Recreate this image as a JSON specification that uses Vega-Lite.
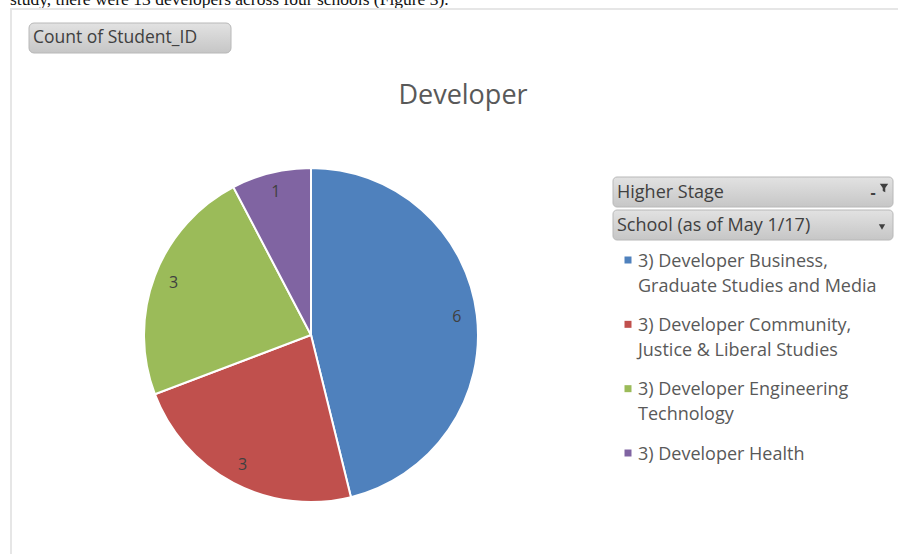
{
  "$schema": "https://vega.github.io/schema/vega-lite/v6.json",
  "width": 898,
  "height": 554,
  "autosize": "none",
  "padding": 0,
  "background": "white",
  "config": {"view": {"stroke": null}},
  "layer": [
    {
      "data": {"values": [{}]},
      "mark": {"type": "text", "x": 10, "y": 5, "align": "left", "baseline": "alphabetic", "font": "Liberation Serif", "fontSize": 17.5, "color": "#111111", "text": "study, there were 13 developers across four schools (Figure 3)."},
      "encoding": {}
    },
    {
      "data": {"values": [{}]},
      "mark": {"type": "rect", "x": 11, "y": 9, "x2": 905, "y2": 565, "fill": null, "stroke": "#e6e6e6", "strokeWidth": 2},
      "encoding": {}
    },
    {
      "data": {"values": [{}]},
      "mark": {"type": "text", "x": 463, "y": 104, "align": "center", "baseline": "alphabetic", "font": "Open Sans", "fontSize": 27, "color": "#595959", "text": "Developer"},
      "encoding": {}
    },
    {
      "data": {"values": [{}]},
      "mark": {"type": "rect", "x": 29, "y": 23, "x2": 231, "y2": 53, "cornerRadius": 5, "stroke": "#b8b8b8", "strokeWidth": 1,
        "fill": {"gradient": "linear", "x1": 0, "y1": 0, "x2": 0, "y2": 1, "stops": [{"offset": 0, "color": "#e2e2e2"}, {"offset": 1, "color": "#c6c6c6"}]}},
      "encoding": {}
    },
    {
      "data": {"values": [{}]},
      "mark": {"type": "text", "x": 33, "y": 38, "align": "left", "baseline": "middle", "font": "Open Sans", "fontSize": 17.5, "color": "#404040", "text": "Count of Student_ID"},
      "encoding": {}
    },
    {
      "data": {"values": [{}]},
      "mark": {"type": "rect", "x": 613, "y": 177, "x2": 893, "y2": 207, "cornerRadius": 4, "stroke": "#b8b8b8", "strokeWidth": 1,
        "fill": {"gradient": "linear", "x1": 0, "y1": 0, "x2": 0, "y2": 1, "stops": [{"offset": 0, "color": "#e2e2e2"}, {"offset": 1, "color": "#c6c6c6"}]}},
      "encoding": {}
    },
    {
      "data": {"values": [{}]},
      "mark": {"type": "rect", "x": 613, "y": 210, "x2": 893, "y2": 240, "cornerRadius": 4, "stroke": "#b8b8b8", "strokeWidth": 1,
        "fill": {"gradient": "linear", "x1": 0, "y1": 0, "x2": 0, "y2": 1, "stops": [{"offset": 0, "color": "#e2e2e2"}, {"offset": 1, "color": "#c6c6c6"}]}},
      "encoding": {}
    },
    {
      "data": {"values": [{}]},
      "mark": {"type": "text", "x": 617, "y": 193, "align": "left", "baseline": "middle", "font": "Open Sans", "fontSize": 18, "color": "#404040", "text": "Higher Stage"},
      "encoding": {}
    },
    {
      "data": {"values": [{}]},
      "mark": {"type": "text", "x": 617, "y": 226, "align": "left", "baseline": "middle", "font": "Open Sans", "fontSize": 18, "color": "#404040", "text": "School (as of May 1/17)"},
      "encoding": {}
    },
    {
      "data": {"values": [{}]},
      "mark": {"type": "point", "x": 884, "y": 188, "filled": true, "color": "#404040", "opacity": 1, "size": 70, "shape": "M-1,-1L1,-1L0.3,0L0.3,1L-0.3,0.7L-0.3,0Z"},
      "encoding": {}
    },
    {
      "data": {"values": [{}]},
      "mark": {"type": "text", "x": 873, "y": 193, "align": "center", "baseline": "middle", "font": "Open Sans", "fontSize": 16, "fontWeight": "bold", "color": "#404040", "text": "-"},
      "encoding": {}
    },
    {
      "data": {"values": [{}]},
      "mark": {"type": "point", "x": 882, "y": 227, "filled": true, "color": "#404040", "opacity": 1, "size": 40, "shape": "triangle-down"},
      "encoding": {}
    },
    {
      "data": {"name": "schools", "values": [
        {"school": "3) Developer Business, Graduate Studies and Media", "legend_label": ["3) Developer Business,", "Graduate Studies and Media"], "count": 6},
        {"school": "3) Developer Community, Justice & Liberal Studies", "legend_label": ["3) Developer Community,", "Justice & Liberal Studies"], "count": 3},
        {"school": "3) Developer Engineering Technology", "legend_label": ["3) Developer Engineering", "Technology"], "count": 3},
        {"school": "3) Developer Health", "legend_label": ["3) Developer Health"], "count": 1}
      ]},
      "layer": [
        {
          "mark": {"type": "arc", "x": 311, "y": 335, "radius": 167, "stroke": "white", "strokeWidth": 2},
          "encoding": {
            "theta": {"field": "count", "type": "quantitative", "stack": true},
            "order": {"field": "school", "type": "nominal", "sort": "ascending"},
            "color": {
              "field": "school",
              "type": "nominal",
              "scale": {
                "domain": ["3) Developer Business, Graduate Studies and Media", "3) Developer Community, Justice & Liberal Studies", "3) Developer Engineering Technology", "3) Developer Health"],
                "range": ["#4F81BD", "#C0504D", "#9BBB59", "#8064A2"]
              },
              "legend": null
            }
          }
        },
        {
          "mark": {"type": "text", "x": 311, "y": 335, "radius": 147, "font": "Open Sans", "fontSize": 16, "color": "#404040"},
          "encoding": {
            "theta": {"field": "count", "type": "quantitative", "stack": true},
            "order": {"field": "school", "type": "nominal", "sort": "ascending"},
            "detail": {"field": "school", "type": "nominal"},
            "text": {"field": "count", "type": "quantitative"}
          }
        },
        {
          "mark": {"type": "square", "x": 628, "size": 49, "filled": true, "opacity": 1},
          "encoding": {
            "y": {"field": "school", "type": "nominal", "sort": null, "scale": {"type": "point", "range": [260, 453], "padding": 0}, "axis": null},
            "color": {"field": "school", "type": "nominal", "legend": null}
          }
        },
        {
          "mark": {"type": "text", "x": 638, "align": "left", "baseline": "alphabetic", "dy": 6.5, "lineHeight": 25, "font": "Open Sans", "fontSize": 18, "color": "#595959"},
          "encoding": {
            "y": {"field": "school", "type": "nominal", "sort": null},
            "text": {"field": "legend_label"}
          }
        }
      ]
    }
  ]
}
